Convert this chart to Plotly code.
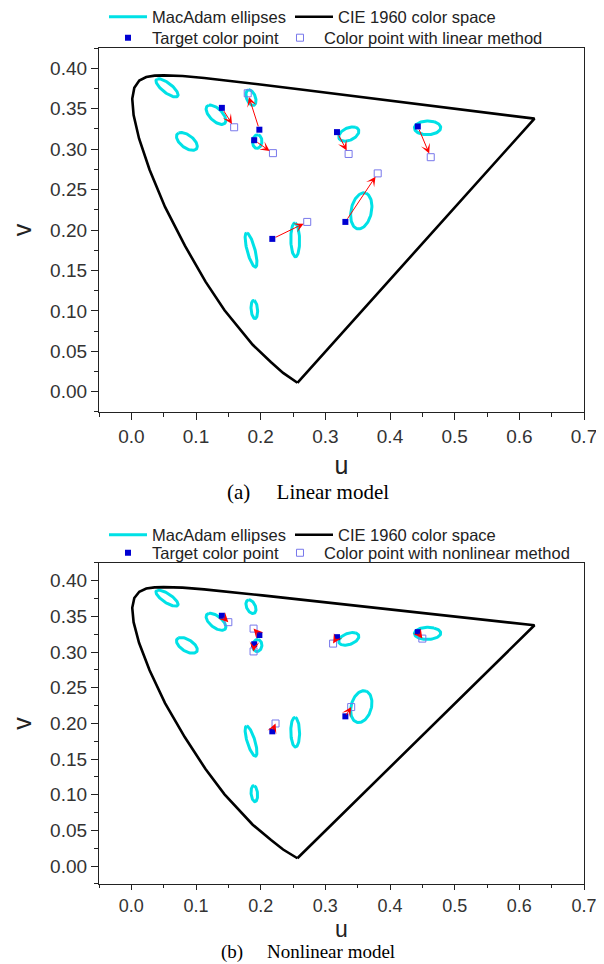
import numpy as np
import plotly.graph_objects as go

# ---------------- data ----------------
# CIE 1960 (u, v) spectral locus outline, closed by the purple line
locus_u = [0.2568, 0.2347, 0.2161, 0.1877, 0.1441, 0.1147, 0.0828, 0.0521, 0.0282,
           0.0119, 0.0035, 0.0014, 0.0046, 0.0123, 0.0231, 0.0360, 0.0501, 0.0792,
           0.1127, 0.1531, 0.2026, 0.2623, 0.3315, 0.4035, 0.4692, 0.5203, 0.5565,
           0.5830, 0.6005, 0.6109, 0.6234, 0.2568]
locus_v = [0.0111, 0.0233, 0.0366, 0.0581, 0.1007, 0.1362, 0.1806, 0.2285, 0.2745,
           0.3132, 0.3420, 0.3621, 0.3759, 0.3847, 0.3891, 0.3908, 0.3912, 0.3904,
           0.3880, 0.3844, 0.3796, 0.3736, 0.3667, 0.3596, 0.3530, 0.3479, 0.3443,
           0.3417, 0.3400, 0.3389, 0.3377, 0.0111]

# MacAdam ellipses: centre and two conjugate semi-axis vectors (u, v units)
ell_cu = [0.1902, 0.1851, 0.2534, 0.0552, 0.1309, 0.0859, 0.1850, 0.1947, 0.3363, 0.4581, 0.3556]
ell_cv = [0.1017, 0.1752, 0.1878, 0.3757, 0.3425, 0.3095, 0.3637, 0.3093, 0.3186, 0.3263, 0.2236]
ell_au = [0.0000, -0.0064, 0.0003, -0.0151, -0.0109, -0.0129, -0.0032, 0.0013, 0.0107, 0.0100, 0.0076]
ell_av = [0.0110, 0.0211, 0.0207, 0.0110, 0.0118, 0.0104, 0.0096, 0.0083, 0.0083, 0.0075, 0.0217]
ell_bu = [-0.0051, -0.0065, -0.0068, -0.0080, -0.0107, -0.0096, -0.0071, -0.0071, -0.0113, -0.0177, -0.0146]
ell_bv = [0.0021, 0.0007, 0.0023, -0.0024, -0.0019, -0.0037, -0.0002, 0.0010, 0.0031, 0.0040, 0.0052]

# target colour points and the points reached by each method
target_u = [0.140, 0.198, 0.190, 0.318, 0.443, 0.331, 0.218]
target_v = [0.351, 0.324, 0.311, 0.321, 0.328, 0.210, 0.189]
linear_u = [0.159, 0.180, 0.219, 0.336, 0.463, 0.381, 0.272]
linear_v = [0.327, 0.369, 0.295, 0.294, 0.290, 0.270, 0.210]
nonlin_u = [0.150, 0.189, 0.189, 0.312, 0.450, 0.340, 0.223]
nonlin_v = [0.342, 0.333, 0.301, 0.312, 0.319, 0.223, 0.200]

x_ticks = [0.0, 0.1, 0.2, 0.3, 0.4, 0.5, 0.6, 0.7]
y_ticks = [0.00, 0.05, 0.10, 0.15, 0.20, 0.25, 0.30, 0.35, 0.40]

# ---------------- styles ----------------
CYAN = "rgb(0,225,230)"
BLUE = "rgb(0,0,210)"
OPEN = "rgb(120,120,235)"
SANS = "Liberation Sans, Arial, sans-serif"
SERIF = "Liberation Serif, Times New Roman, serif"

t = np.linspace(0, 2 * np.pi, 91)
ell_u, ell_v = [], []
for cu, cv, au, av, bu, bv in zip(ell_cu, ell_cv, ell_au, ell_av, ell_bu, ell_bv):
    ell_u += list(cu + au * np.cos(t) + bu * np.sin(t)) + [None]
    ell_v += list(cv + av * np.cos(t) + bv * np.sin(t)) + [None]

fig = go.Figure()

panels = [
    ("x", "y", "legend", "legend2", linear_u, linear_v, "Color point with linear method"),
    ("x2", "y2", "legend3", "legend4", nonlin_u, nonlin_v, "Color point with nonlinear method"),
]
for xa, ya, lg_a, lg_b, eu, ev, ename in panels:
    fig.add_trace(go.Scatter(x=ell_u, y=ell_v, mode="lines", name="MacAdam ellipses",
                             line=dict(color=CYAN, width=3), xaxis=xa, yaxis=ya,
                             legend=lg_a, legendwidth=133))
    fig.add_trace(go.Scatter(x=locus_u, y=locus_v, mode="lines", name="CIE 1960 color space",
                             line=dict(color="black", width=2.6), xaxis=xa, yaxis=ya,
                             legend=lg_a))
    fig.add_trace(go.Scatter(x=target_u, y=target_v, mode="markers", name="Target color point",
                             marker=dict(symbol="square", size=6, color=BLUE),
                             xaxis=xa, yaxis=ya, legend=lg_b, legendwidth=119))
    fig.add_trace(go.Scatter(x=eu, y=ev, mode="markers", name=ename,
                             marker=dict(symbol="square-open", size=7, color=OPEN,
                                         line=dict(width=1, color=OPEN)),
                             xaxis=xa, yaxis=ya, legend=lg_b))
    for tu, tv, pu, pv in zip(target_u, target_v, eu, ev):
        fig.add_annotation(x=pu, y=pv, ax=tu, ay=tv, xref=xa, yref=ya, axref=xa, ayref=ya,
                           text="", showarrow=True, arrowhead=3, arrowsize=1.6,
                           arrowwidth=1, arrowcolor="red",
                           standoff=4 if xa == "x" else 0, startstandoff=2 if xa == "x" else 0)

axis_common = dict(showline=True, linecolor="#222", linewidth=1.2, mirror=True,
                   ticks="outside", ticklen=7, tickwidth=1.2, tickcolor="#222",
                   showgrid=False, zeroline=False,
                   tickfont=dict(family=SANS, size=19, color="#333"))
xaxis_common = dict(axis_common, range=[-0.05, 0.7], tickvals=x_ticks, tickformat=".1f",
                    minor=dict(dtick=0.05, tick0=0, ticklen=4, ticks="outside",
                               tickcolor="#222", tickwidth=1.2))
yaxis_common = dict(axis_common, range=[-0.025, 0.425], tickvals=y_ticks, tickformat=".2f",
                    minor=dict(dtick=0.025, tick0=0, ticklen=4, ticks="outside",
                               tickcolor="#222", tickwidth=1.2),
                    title=dict(text="v", font=dict(family=SANS, size=25, color="#222"),
                               standoff=18))

# the page body adds an 8px offset, so the figure is 8px smaller than the window
top_dom = [0.5646, 1.0]
bot_dom = [0.0, 0.3840]

legend_common = dict(orientation="h", xanchor="left", yanchor="middle", x=0.0103,
                     itemwidth=38, bgcolor="rgba(0,0,0,0)", borderwidth=0,
                     font=dict(family=SANS, size=16.5, color="#222"))

fig.update_layout(
    width=596, height=956,
    margin=dict(l=91, r=20, t=40, b=80, autoexpand=False),
    paper_bgcolor="white", plot_bgcolor="white",
    showlegend=True,
    xaxis=dict(xaxis_common, domain=[0, 1], anchor="y",
               title=dict(text="u", font=dict(family=SANS, size=25, color="#222"), standoff=10)),
    yaxis=dict(yaxis_common, domain=top_dom, anchor="x"),
    xaxis2=dict(xaxis_common, domain=[0, 1], anchor="y2", ticklen=5,
                tickfont=dict(family=SANS, size=18, color="#333"),
                minor=dict(dtick=0.05, tick0=0, ticklen=3, ticks="outside",
                           tickcolor="#222", tickwidth=1.2),
                title=dict(text="u", font=dict(family=SANS, size=23, color="#222"), standoff=0)),
    yaxis2=dict(yaxis_common, domain=bot_dom, anchor="x2"),
    legend=dict(legend_common, y=1.0371),
    legend2=dict(legend_common, y=1.0120),
    legend3=dict(legend_common, y=0.4175),
    legend4=dict(legend_common, y=0.3959),
)

fig.add_annotation(text="(a)" + "\u00a0" * 5 + "Linear model", xref="paper", yref="paper",
                   x=0.431, y=0.4689, xanchor="center", yanchor="middle", showarrow=False,
                   font=dict(family=SERIF, size=21, color="black"))
fig.add_annotation(text="(b)" + "\u00a0" * 5 + "Nonlinear model", xref="paper", yref="paper",
                   x=0.431, y=-0.0813, xanchor="center", yanchor="middle", showarrow=False,
                   font=dict(family=SERIF, size=19, color="black"))

fig.write_html("out.html")
